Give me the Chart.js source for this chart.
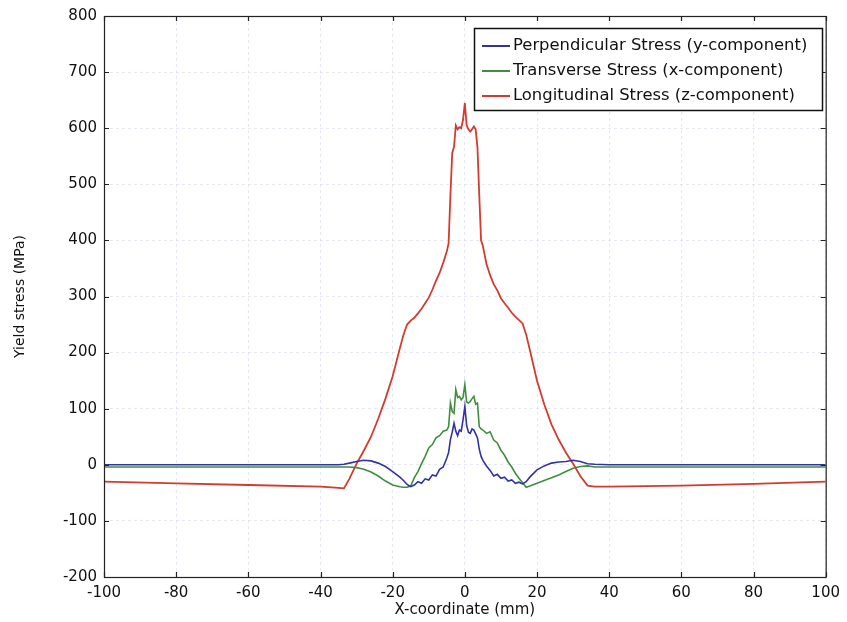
<!DOCTYPE html>
<html>
<head>
<meta charset="utf-8">
<script src="https://cdn.jsdelivr.net/npm/chart.js@4/dist/chart.umd.min.js"></script>
<style>
html,body{margin:0;padding:0;background:#fff;}
#wrap{width:847px;height:622px;position:relative;}
</style>
</head>
<body>
<div id="wrap"><canvas id="c" width="847" height="622"></canvas></div>
<script>
// X positions (mm)
const xCoord = [-100,-80,-60,-40,-35,-33.5,-32,-30,-28,-26,-24,-22,-20,-18,-17,-16,-15,-14,-13,-12,-11,-10,-9,-8,-7,-6,-5,-4.5,-4,-3.5,-3,-2.5,-2,-1.5,-1,-0.5,0,0.5,1,1.5,2,2.5,3,3.5,4,4.5,5,6,7,8,9,10,11,12,13,14,15,16,17,18,20,22,24,26,28,30,32,34,36,40,60,80,100];

const perpendicularY = [0,0,0,0,0,1,3,6,8,7,3,-3,-12,-22,-28,-35,-39,-36,-30,-33,-25,-27,-18,-20,-8,-4,12,22,45,58,74,60,52,62,60,80,104,70,58,56,64,62,55,48,28,15,8,-2,-10,-20,-17,-24,-22,-29,-27,-33,-31,-34,-30,-22,-9,-2,3,5,6,8,6,2,1,0,0,0,0];

const transverseX = [-4,-4,-4,-4,-4,-4,-4,-5,-8,-13,-20,-29,-36,-39,-40,-40,-38,-23,-12,2,15,30,36,48,52,60,62,68,110,95,92,134,120,122,116,120,143,112,110,113,118,122,108,110,68,64,62,56,59,44,39,26,17,5,-4,-15,-24,-32,-40,-38,-33,-28,-23,-18,-12,-6,-3,-2,-4,-4,-4,-4,-4];

const longitudinalZ = [-30,-33,-36,-39,-41,-42,-25,2,25,50,82,118,158,208,232,250,257,262,270,278,288,298,312,328,342,360,380,395,480,556,567,605,598,602,600,615,645,605,598,594,598,603,598,565,480,400,390,358,338,322,311,297,288,280,271,264,258,252,232,205,150,108,72,45,22,2,-20,-37,-39,-39,-37,-34,-30];

const seriesLabels = ['Perpendicular Stress (y-component)','Transverse Stress (x-component)','Longitudinal Stress (z-component)'];
const xTicks = [-100,-80,-60,-40,-20,0,20,40,60,80,100];
const yTicks = [-200,-100,0,100,200,300,400,500,600,700,800];

const colors = ['#3133a2','#3f8f3f','#d23b2e'];
const FONT = 'DejaVu Sans';

function pts(ys){ return xCoord.map((x,i)=>({x:x,y:ys[i]})); }

const framePlugin = {
  id:'frame',
  afterDraw(chart){
    const ctx = chart.ctx, a = chart.chartArea;
    const xs = chart.scales.x, ys = chart.scales.y;
    ctx.save();
    ctx.strokeStyle = '#222';
    ctx.lineWidth = 1.2;
    ctx.strokeRect(a.left+0.5, a.top+0.5, a.right-a.left, a.bottom-a.top);
    const tl = 5;
    ctx.beginPath();
    xTicks.forEach(v=>{
      const p = Math.round(xs.getPixelForValue(v))+0.5;
      ctx.moveTo(p,a.bottom); ctx.lineTo(p,a.bottom-tl);
      ctx.moveTo(p,a.top); ctx.lineTo(p,a.top+tl);
    });
    yTicks.forEach(v=>{
      const p = Math.round(ys.getPixelForValue(v))+0.5;
      ctx.moveTo(a.left,p); ctx.lineTo(a.left+tl,p);
      ctx.moveTo(a.right,p); ctx.lineTo(a.right-tl,p);
    });
    ctx.stroke();
    // legend box
    const bx = 474, by = 28, bw = 348, bh = 82;
    ctx.fillStyle = '#fff';
    ctx.fillRect(bx,by,bw,bh);
    ctx.strokeStyle = '#111';
    ctx.lineWidth = 1.5;
    ctx.strokeRect(bx+0.5,by+0.5,bw,bh);
    ctx.font = '16.4px "' + FONT + '"';
    ctx.textBaseline = 'middle';
    chart.data.datasets.forEach((ds,i)=>{
      const yy = by + 18 + i*25;
      ctx.strokeStyle = ds.borderColor;
      ctx.lineWidth = 2;
      ctx.beginPath(); ctx.moveTo(bx+8,yy); ctx.lineTo(bx+36,yy); ctx.stroke();
      ctx.fillStyle = '#111';
      ctx.fillText(ds.label, bx+39, yy);
    });
    ctx.restore();
  }
};

new Chart(document.getElementById('c'),{
  type:'line',
  data:{
    datasets:[
      {label:seriesLabels[0], data:pts(perpendicularY), borderColor:colors[0], borderWidth:1.6, pointRadius:0, tension:0, fill:false},
      {label:seriesLabels[1], data:pts(transverseX), borderColor:colors[1], borderWidth:1.6, pointRadius:0, tension:0, fill:false},
      {label:seriesLabels[2], data:pts(longitudinalZ), borderColor:colors[2], borderWidth:1.8, pointRadius:0, tension:0, fill:false}
    ]
  },
  options:{
    responsive:false,
    animation:false,
    layout:{padding:{top:16,right:19,left:0,bottom:0}},
    plugins:{legend:{display:false}, tooltip:{enabled:false}},
    scales:{
      x:{
        type:'linear', min:-100, max:100,
        afterBuildTicks(s){ s.ticks = xTicks.map(v=>({value:v})); },
        afterFit(s){ s.height = 45; },
        grid:{color:'rgba(200,206,225,0.45)', drawTicks:false, lineWidth:1},
        border:{display:false, dash:[3,3]},
        ticks:{color:'#111', font:{family:FONT,size:15}, padding:7, maxRotation:0, autoSkip:false},
        title:{display:true, text:'X-coordinate (mm)', color:'#111', font:{family:FONT,size:15}, padding:{top:0,bottom:3}}
      },
      y:{
        type:'linear', min:-200, max:800,
        afterBuildTicks(s){ s.ticks = yTicks.map(v=>({value:v})); },
        afterFit(s){ s.width = 104; },
        grid:{color:'rgba(200,206,225,0.45)', drawTicks:false, lineWidth:1},
        border:{display:false, dash:[3,3]},
        ticks:{color:'#111', font:{family:FONT,size:15}, padding:7, autoSkip:false},
        title:{display:true, text:'Yield stress (MPa)', color:'#111', font:{family:FONT,size:14}, padding:{top:12,bottom:0}}
      }
    }
  },
  plugins:[framePlugin]
});
</script>
</body>
</html>
